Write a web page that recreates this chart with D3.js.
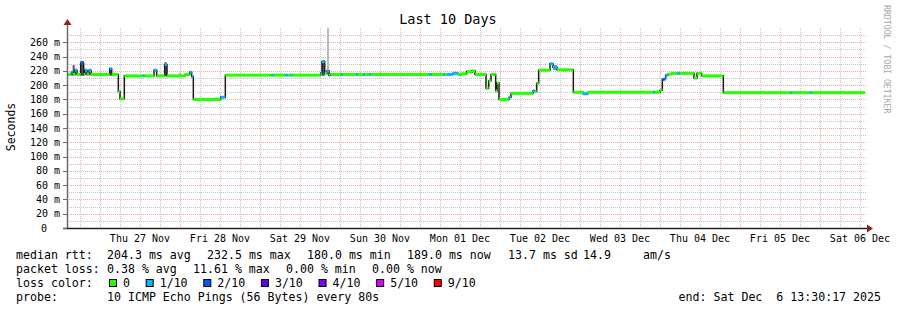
<!DOCTYPE html>
<html>
<head>
<meta charset="utf-8">
<script src="https://cdn.jsdelivr.net/npm/d3@7"></script>
<style>
  body { margin: 0; background: #ffffff; }
  svg { display: block; }
  text { font-family: "DejaVu Sans Mono", monospace; white-space: pre; }
</style>
</head>
<body>
<div id="chart"></div>
<script>
// ---- data ----
var windowEnd = Date.UTC(2025, 11, 6, 13, 30, 17);   // end: Sat Dec 6 13:30:17 2025
var windowHours = 240;                               // last 10 days

// median rtt steps: start hour (since window start), value in ms, loss bucket
var stepHours = [0.0, 1.9, 2.3, 3.0, 3.6, 4.7, 5.6, 6.0, 6.6, 7.2, 7.8, 13.4, 14.0, 16.0, 16.5, 17.8,
  23.3, 23.9, 26.7, 27.5, 29.9, 30.6, 36.0, 37.4, 38.0, 38.5, 46.7, 48.1, 62.0, 62.5, 66.2, 66.8,
  67.5, 68.2, 76.7, 77.1, 77.9, 78.6, 79.2, 79.7, 82.8, 83.3, 87.3, 87.8, 89.4, 90.0, 91.2, 91.8,
  109.2, 110.1, 113.4, 114.0, 114.6, 116.4, 117.9, 119.1, 120.5, 121.5, 122.1, 123.0, 126.3, 127.1,
  127.8, 129.2, 129.6, 130.2, 133.2, 133.8, 140.4, 141.0, 141.5, 142.1, 145.5, 146.4, 147.6, 152.5,
  155.4, 156.9, 176.4, 176.9, 178.5, 179.2, 179.9, 180.2, 180.9, 182.1, 183.6, 184.5, 188.7, 189.6,
  191.0, 197.5, 217.5, 218.0, 223.5, 224.0];
var medianMs = [215, 218, 215, 221, 215, 231, 215, 221, 215, 221, 215, 223, 215, 191, 181, 213,
  213, 213, 221, 213, 229, 213, 215, 218, 212, 180, 183, 214, 214, 214, 214, 214,
  214, 214, 217, 233, 216, 220, 214, 215, 215, 215, 215, 215, 215, 215, 215, 215,
  215, 215, 215, 215, 215, 216.5, 215, 216, 219, 218, 220, 215, 195.5, 206,
  215, 192, 203, 180, 183, 188.5, 192, 191, 202.5, 221, 230, 225, 221.5, 190,
  188, 190, 190, 190, 193, 208, 209, 214, 215.5, 216.5, 216.5, 216.5, 210, 216.5,
  213, 189.5, 189.5, 189.5, 189.5, 189.5];
var lossIdx = [0, 1, 0, 1, 0, 2, 0, 1, 0, 1, 0, 1, 0, 0, 0, 0,
  1, 0, 1, 0, 1, 0, 0, 1, 1, 0, 1, 0, 1, 0, 1, 0,
  1, 0, 1, 1, 0, 1, 1, 0, 1, 0, 1, 0, 1, 0, 1, 0,
  1, 0, 1, 0, 1, 1, 0, 0, 0, 0, 0, 0, 0, 0,
  0, 0, 0, 0, 1, 0, 1, 0, 0, 0, 1, 1, 0, 0,
  1, 0, 1, 0, 0, 2, 1, 1, 0, 0, 1, 0, 0, 0,
  0, 0, 1, 0, 1, 0];

// visible smoke (ping spread): from hour, to hour, low ms, high ms, density
var smokeFrom = [2.3, 4.7, 13.35, 29.85, 34.05, 77.1, 78.6, 146.4];
var smokeTo = [2.9, 5.6, 13.95, 30.6, 34.8, 77.85, 79.2, 147.6];
var smokeLow = [213, 213, 213, 213, 212, 213, 219, 221];
var smokeHigh = [228, 234, 224, 232, 217, 235, 290, 228];
var smokeDensity = [0.85, 0.8, 0.75, 0.8, 0.2, 0.85, 0.15, 0.5];

var yTicks = [0, 20, 40, 60, 80, 100, 120, 140, 160, 180, 200, 220, 240, 260];
var lossLabels = ['0', '1/10', '2/10', '3/10', '4/10', '5/10', '9/10'];
var lossColors = ['#26ff00', '#00b8ff', '#0059ff', '#5e00ff', '#7e00ff', '#dd00ff', '#ff0000'];

var rttStats = ['204.3 ms avg', '232.5 ms max', '180.0 ms min', '189.0 ms now', '13.7 ms sd', '14.9', 'am/s'];
var lossStats = ['0.38 % avg', '11.61 % max', '0.00 % min', '0.00 % now'];
var probeText = '10 ICMP Echo Pings (56 Bytes) every 80s';

// ---- layout ----
var W = 897, H = 310;
var plotL = 67, plotR = 867, plotT = 28, plotB = 228;
var hr = 3600 * 1000;
var t = function(h) { return new Date(windowEnd - (windowHours - h) * hr); };

var svg = d3.select('#chart').append('svg')
  .attr('width', W).attr('height', H)
  .attr('viewBox', '0 0 ' + W + ' ' + H);

svg.append('rect').attr('width', W).attr('height', H).style('fill', '#ffffff');

// rrdtool places the last 10 days with a 2px shift from the axis
var x = d3.scaleUtc()
  .domain([t(0.6), t(windowHours + 0.6)])
  .range([plotL, plotR]);
var y = d3.scaleLinear().domain([0, 280]).range([plotB, plotT]);

svg.append('defs').append('clipPath').attr('id', 'plot')
  .append('rect').attr('x', plotL + 1).attr('y', plotT).attr('width', plotR - plotL - 1).attr('height', plotB - plotT);

// grid: minor
var minorY = d3.range(10, 280, 20);
svg.append('g').selectAll('line').data(minorY).enter().append('line')
  .attr('x1', plotL).attr('x2', plotR)
  .attr('y1', function(d) { return Math.round(y(d)) + 0.5; })
  .attr('y2', function(d) { return Math.round(y(d)) + 0.5; })
  .style('stroke', '#c4c4c4').style('stroke-dasharray', '1,1');

var minorX = d3.utcHour.every(6).range(x.domain()[0], x.domain()[1])
  .filter(function(d) { return d.getUTCHours() !== 0; });
svg.append('g').selectAll('line').data(minorX).enter().append('line')
  .attr('x1', function(d) { return Math.round(x(d)) + 0.5; })
  .attr('x2', function(d) { return Math.round(x(d)) + 0.5; })
  .attr('y1', plotT).attr('y2', plotB)
  .style('stroke', '#c4c4c4').style('stroke-dasharray', '1,1');

// grid: major
svg.append('g').selectAll('line').data(yTicks.slice(1)).enter().append('line')
  .attr('x1', plotL).attr('x2', plotR)
  .attr('y1', function(d) { return Math.round(y(d)) + 0.5; })
  .attr('y2', function(d) { return Math.round(y(d)) + 0.5; })
  .style('stroke', '#f4a4a4').style('stroke-dasharray', '1,1');

var days = d3.utcDay.range(x.domain()[0], x.domain()[1]);
svg.append('g').selectAll('line').data(days).enter().append('line')
  .attr('x1', function(d) { return Math.round(x(d)) + 0.5; })
  .attr('x2', function(d) { return Math.round(x(d)) + 0.5; })
  .attr('y1', plotT).attr('y2', plotB)
  .style('stroke', '#f4a4a4').style('stroke-dasharray', '1,1');

// data layer
var plot = svg.append('g').attr('clip-path', 'url(#plot)');

// smoke
var shade = d3.interpolateRgb('#d4d4d4', '#3c3c3c');
plot.selectAll('rect.smoke').data(smokeFrom).enter().append('rect')
  .attr('class', 'smoke')
  .attr('x', function(d) { return x(t(d)); })
  .attr('width', function(d, i) { return x(t(smokeTo[i])) - x(t(d)); })
  .attr('y', function(d, i) { return y(smokeHigh[i]); })
  .attr('height', function(d, i) { return y(smokeLow[i]) - y(smokeHigh[i]); })
  .style('fill', function(d, i) { return shade(smokeDensity[i]); });

// median step line
var pts = stepHours.map(function(h, i) { return [h, medianMs[i]]; });
pts.push([windowHours, medianMs[medianMs.length - 1]]);
var line = d3.line()
  .x(function(d) { return x(t(d[0])); })
  .y(function(d) { return y(d[1]); })
  .curve(d3.curveStepAfter);
plot.append('path').datum(pts)
  .attr('d', line)
  .style('fill', 'none')
  .style('stroke', '#1c1c1c')
  .style('stroke-width', 1.5);

// loss coloured median bars
plot.selectAll('rect.med').data(stepHours).enter().append('rect')
  .attr('class', 'med')
  .attr('x', function(d) { return x(t(d)); })
  .attr('width', function(d, i) {
    var h1 = i + 1 < stepHours.length ? stepHours[i + 1] : windowHours;
    return x(t(h1)) - x(t(d));
  })
  .attr('y', function(d, i) { return y(medianMs[i]) - 1.5; })
  .attr('height', 3)
  .style('fill', function(d, i) { return lossColors[lossIdx[i]]; });

// axes
svg.append('line').attr('x1', plotL + 0.5).attr('x2', plotL + 0.5).attr('y1', plotB).attr('y2', plotT - 6)
  .style('stroke', '#6a6a6a').style('stroke-width', 1.5);
svg.append('line').attr('x1', plotL - 4).attr('x2', plotR + 2).attr('y1', plotB + 0.5).attr('y2', plotB + 0.5)
  .style('stroke', '#202020').style('stroke-width', 1.5);
svg.append('path').attr('d', 'M' + (plotL - 3.5) + ',' + (plotT - 3) + 'L' + (plotL + 4.5) + ',' + (plotT - 3) + 'L' + (plotL + 0.5) + ',' + (plotT - 9) + 'Z')
  .style('fill', '#8b2222');
svg.append('path').attr('d', 'M' + (plotR) + ',' + (plotB - 3.5) + 'L' + (plotR) + ',' + (plotB + 4.5) + 'L' + (plotR + 6) + ',' + (plotB + 0.5) + 'Z')
  .style('fill', '#8b2222');

// y ticks and labels
svg.append('g').selectAll('line').data(yTicks).enter().append('line')
  .attr('x1', plotL - 4).attr('x2', plotL)
  .attr('y1', function(d) { return Math.round(y(d)) + 0.5; })
  .attr('y2', function(d) { return Math.round(y(d)) + 0.5; })
  .style('stroke', '#6a6a6a');
svg.append('g').selectAll('text').data(yTicks).enter().append('text')
  .attr('x', function(d) { return d === 0 ? 47 : 60; })
  .attr('y', function(d) { return y(d) + 3.6; })
  .attr('text-anchor', 'end')
  .style('font-size', '10px')
  .style('fill', '#000')
  .text(function(d) { return d === 0 ? '0' : d + ' m'; });

// x labels at noon
var fmt = d3.utcFormat('%a %d %b');
var noons = days.map(function(d) { return new Date(+d + 12 * hr); })
  .filter(function(d) { return x(d) > plotL && x(d) < plotR; });
svg.append('g').selectAll('text').data(noons).enter().append('text')
  .attr('x', function(d) { return x(d); })
  .attr('y', 241.5)
  .attr('text-anchor', 'middle')
  .style('font-size', '10px')
  .style('fill', '#000')
  .text(fmt);

// titles
svg.append('text').attr('x', 448).attr('y', 24).attr('text-anchor', 'middle')
  .style('font-size', '13.5px').style('fill', '#000').text('Last 10 Days');
svg.append('text').attr('transform', 'translate(15,127) rotate(-90)').attr('text-anchor', 'middle')
  .style('font-size', '11.5px').style('fill', '#000').text('Seconds');
svg.append('text').attr('transform', 'translate(884,5) rotate(90)').attr('text-anchor', 'start')
  .style('font-size', '8.2px').style('fill', '#a8a8a8').text('RRDTOOL / TOBI OETIKER');

// legend
var fs = '11.6px', cw = 6.98;
var legend = svg.append('g').style('font-size', fs).style('fill', '#000');
var row1X = [107, 207, 307, 407, 508, 583, 643];
legend.append('text').attr('x', 16).attr('y', 258.5).text('median rtt:');
rttStats.forEach(function(s, i) {
  legend.append('text').attr('x', row1X[i]).attr('y', 258.5).text(s);
});
var row2X = [107, 193, 286, 372];
legend.append('text').attr('x', 16).attr('y', 272.5).text('packet loss:');
lossStats.forEach(function(s, i) {
  legend.append('text').attr('x', row2X[i]).attr('y', 272.5).text(s);
});
legend.append('text').attr('x', 16).attr('y', 286.5).text('loss color:');
var lx = 109;
lossLabels.forEach(function(s, i) {
  legend.append('rect').attr('x', lx + 0.5).attr('y', 279.5).attr('width', 7).attr('height', 7)
    .style('fill', lossColors[i]).style('stroke', '#000').style('stroke-width', 1);
  legend.append('text').attr('x', lx + 14).attr('y', 286.5).text(s);
  lx = lx + 14 + s.length * cw + 15.7;
});
legend.append('text').attr('x', 16).attr('y', 300.5).text('probe:');
legend.append('text').attr('x', 107).attr('y', 300.5).text(probeText);
legend.append('text').attr('x', 881).attr('y', 300.5).attr('text-anchor', 'end')
  .text('end: ' + d3.utcFormat('%a %b %e %H:%M:%S %Y')(new Date(windowEnd)));
</script>
</body>
</html>
